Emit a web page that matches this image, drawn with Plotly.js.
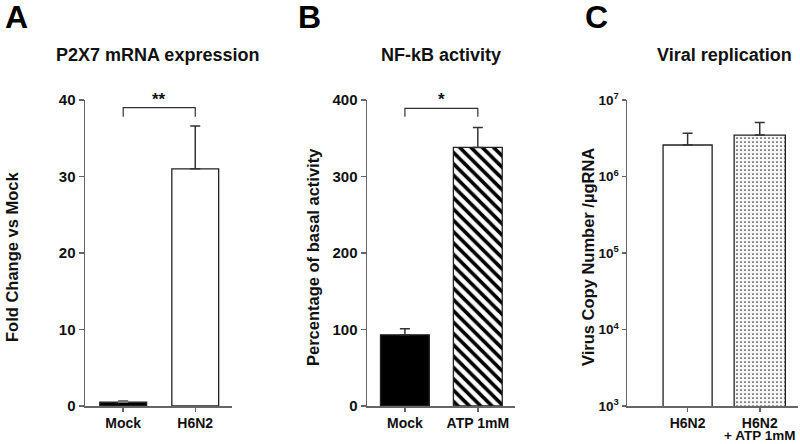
<!DOCTYPE html>
<html>
<head>
<meta charset="utf-8">
<script src="https://cdn.plot.ly/plotly-3.0.1.min.js"></script>
<style>html,body{margin:0;padding:0;background:#fff;}#chart{width:800px;height:444px;}</style>
</head>
<body>
<div id="chart"></div>
<script>
// ---- Data ----
const catsA = ['Mock', 'H6N2'];
const valsA = [0.5, 31.0];
const errA = [0.2, 5.6];
const bracketA = [37.8, 39, 39, 37.8];
const starA = '**';

const catsB = ['Mock', 'ATP 1mM'];
const valsB = [93, 338];
const errB = [8, 26];
const bracketB = [378, 389, 389, 378];
const starB = '*';

const catsC = ['H6N2', 'H6N2 + ATP 1mM'];
const tickLabelsC = ['H6N2', 'H6N2'];
const subLabelC = '+ ATP 1mM';
const valsC = [2.58e6, 3.48e6];
const errC = [1.1e6, 1.6e6];
const tickValsC = [1e3, 1e4, 1e5, 1e6, 1e7];
const tickTextC = ['10<sup>3</sup>', '10<sup>4</sup>', '10<sup>5</sup>', '10<sup>6</sup>', '10<sup>7</sup>'];

const titles = ['P2X7 mRNA expression', 'NF-kB activity', 'Viral replication'];
const letters = ['A', 'B', 'C'];
const yTitles = ['Fold Change vs Mock', 'Percentage of basal activity', 'Virus Copy Number /µgRNA'];

// ---- Styles ----
const FONT = 'Liberation Sans, Arial, sans-serif';
const AX = '#666';
const EDGE = '#222';

function bar(cats, vals, errs, i, xa, ya, width, fill, errColor, pattern) {
  const marker = {color: fill, line: {color: EDGE, width: 1.3}};
  if (pattern) marker.pattern = pattern;
  return {type: 'bar', x: [cats[i]], y: [vals[i]], xaxis: xa, yaxis: ya, width: width,
          marker: marker,
          error_y: {type: 'data', symmetric: false, array: [errs[i]], arrayminus: [0],
                    color: errColor, thickness: 1.5, width: 5},
          showlegend: false, hoverinfo: 'none'};
}
function bracket(cats, ys, xa, ya) {
  return {type: 'scatter', mode: 'lines', x: [cats[0], cats[0], cats[1], cats[1]], y: ys,
          xaxis: xa, yaxis: ya, line: {color: '#333', width: 1.2}, showlegend: false, hoverinfo: 'none'};
}

const traces = [
  bar(catsA, valsA, errA, 0, 'x', 'y', 0.65, '#000', '#777'),
  bar(catsA, valsA, errA, 1, 'x', 'y', 0.65, '#fff', '#333'),
  bracket(catsA, bracketA, 'x', 'y'),
  bar(catsB, valsB, errB, 0, 'x2', 'y2', 0.67, '#000', '#333'),
  bar(catsB, valsB, errB, 1, 'x2', 'y2', 0.67, '#fff', '#333',
      {shape: '\\', fgcolor: '#000', bgcolor: '#fff', size: 8, solidity: 0.45}),
  bracket(catsB, bracketB, 'x2', 'y2'),
  bar(catsC, valsC, errC, 0, 'x3', 'y3', 0.68, '#fff', '#333'),
  bar(catsC, valsC, errC, 1, 'x3', 'y3', 0.71, '#f7f7f7', '#333',
      {shape: '.', fgcolor: '#333', bgcolor: '#f7f7f7', size: 4, solidity: 0.15})
];

const tickFont = {family: FONT, size: 15, color: '#111', weight: 'bold'};
const xTickFont = {family: FONT, size: 14, color: '#111', weight: 'bold'};
function xAx(domain, range, anchor, extra) {
  return Object.assign({domain: domain, range: range, anchor: anchor, type: 'category',
          showline: true, linecolor: AX, linewidth: 1.5, ticks: 'outside', ticklen: 4,
          tickwidth: 1.5, tickcolor: AX, showgrid: false, zeroline: false,
          tickfont: xTickFont, fixedrange: true}, extra || {});
}
function yAx(range, anchor, extra) {
  return Object.assign({domain: [38 / 444, 344 / 444], range: range, anchor: anchor,
          showline: true, linecolor: AX, linewidth: 1.5, ticks: 'outside', ticklen: 5,
          tickwidth: 1.5, tickcolor: AX, showgrid: false, zeroline: false,
          tickfont: tickFont, fixedrange: true}, extra || {});
}

const ann = [];
const titleX = [157, 441, 724];
const letterX = [16, 309, 596];
const yTitleX = [12, 313, 588];
for (let i = 0; i < 3; i++) {
  ann.push({text: '<b>' + titles[i] + '</b>', xref: 'paper', yref: 'paper', x: titleX[i] / 800, y: 1 - 55 / 444,
            showarrow: false, font: {family: FONT, size: 18, color: '#111'}, xanchor: 'center', yanchor: 'middle'});
  ann.push({text: '<b>' + letters[i] + '</b>', xref: 'paper', yref: 'paper', x: letterX[i] / 800, y: 1 - 17 / 444,
            showarrow: false, font: {family: FONT, size: 32, color: '#000'}, xanchor: 'center', yanchor: 'middle'});
  ann.push({text: '<b>' + yTitles[i] + '</b>', xref: 'paper', yref: 'paper', x: yTitleX[i] / 800, y: 1 - 257 / 444,
            showarrow: false, textangle: -90, font: {family: FONT, size: 16.5, color: '#111'}, xanchor: 'center', yanchor: 'middle'});
}
ann.push({text: '<b>' + starA + '</b>', xref: 'x', yref: 'y', x: 0.5, y: bracketA[1], yanchor: 'bottom', yshift: -3,
          showarrow: false, font: {family: FONT, size: 17, color: '#111'}});
ann.push({text: '<b>' + starB + '</b>', xref: 'x2', yref: 'y2', x: 0.5, y: bracketB[1], yanchor: 'bottom', yshift: -3,
          showarrow: false, font: {family: FONT, size: 17, color: '#111'}});
ann.push({text: '<b>' + subLabelC + '</b>', xref: 'x3', yref: 'paper', x: catsC[1], y: 0,
          yanchor: 'bottom', borderpad: 0, showarrow: false, font: {family: FONT, size: 13.5, color: '#111'}});

const layout = {
  width: 800, height: 444, margin: {l: 0, r: 0, t: 0, b: 0},
  paper_bgcolor: '#fff', plot_bgcolor: 'rgba(0,0,0,0)',
  font: {family: FONT, color: '#111'},
  barmode: 'overlay',
  xaxis: xAx([85 / 800, 232 / 800], [-0.53, 1.51], 'y'),
  yaxis: yAx([0, 40], 'x', {tickvals: [0, 10, 20, 30, 40]}),
  xaxis2: xAx([367 / 800, 515 / 800], [-0.52, 1.51], 'y2'),
  yaxis2: yAx([0, 400], 'x2', {tickvals: [0, 100, 200, 300, 400]}),
  xaxis3: xAx([627 / 800, 798 / 800], [-0.84, 1.53], 'y3', {tickvals: catsC, ticktext: tickLabelsC}),
  yaxis3: yAx([3, 7], 'x3', {type: 'log', tickvals: tickValsC, ticktext: tickTextC, ticklen: 4,
                              tickfont: Object.assign({}, tickFont, {size: 13.5})}),
  annotations: ann
};

Plotly.newPlot('chart', traces, layout, {displayModeBar: false, staticPlot: true});
</script>
</body>
</html>
